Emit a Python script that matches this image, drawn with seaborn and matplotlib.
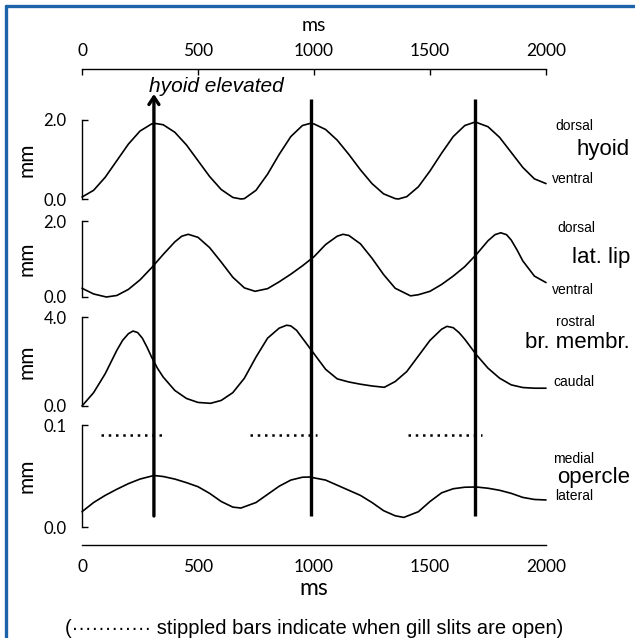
import matplotlib
matplotlib.use("Agg")
import matplotlib.pyplot as plt
import seaborn as sns
from matplotlib.lines import Line2D

# ---- data (time in ms, displacement in mm) ----
hyoid_ms = [0, 50, 100, 150, 200, 250, 300, 319, 350, 400, 450, 500, 550, 600, 650, 685,
            700, 750, 800, 850, 900, 950, 981, 1000, 1050, 1100, 1150, 1200, 1250, 1300,
            1350, 1364, 1400, 1450, 1500, 1550, 1600, 1650, 1695, 1750, 1800, 1850, 1900,
            1950, 2000]
hyoid_mm = [0.05, 0.22, 0.55, 0.97, 1.39, 1.72, 1.90, 1.91, 1.88, 1.69, 1.37, 0.97, 0.57,
            0.24, 0.04, 0.0, 0.01, 0.22, 0.63, 1.13, 1.58, 1.86, 1.91, 1.90, 1.76, 1.49,
            1.13, 0.74, 0.39, 0.13, 0.01, 0.0, 0.06, 0.31, 0.71, 1.16, 1.58, 1.86, 1.95,
            1.83, 1.56, 1.18, 0.80, 0.51, 0.39]

lip_ms = [0, 50, 105, 150, 200, 250, 300, 350, 400, 430, 458, 500, 550, 600, 650, 700, 746,
          800, 850, 900, 950, 1000, 1050, 1100, 1125, 1150, 1200, 1250, 1300, 1350, 1416,
          1450, 1500, 1550, 1600, 1650, 1700, 1750, 1780, 1805, 1830, 1850, 1875, 1900,
          1950, 2000]
lip_mm = [0.23, 0.08, 0.0, 0.04, 0.20, 0.45, 0.77, 1.12, 1.45, 1.60, 1.65, 1.57, 1.30, 0.92,
          0.52, 0.24, 0.15, 0.22, 0.40, 0.60, 0.82, 1.06, 1.38, 1.60, 1.65, 1.62, 1.40, 1.02,
          0.59, 0.23, 0.03, 0.06, 0.15, 0.33, 0.55, 0.80, 1.12, 1.48, 1.64, 1.69, 1.64,
          1.50, 1.24, 0.95, 0.55, 0.38]

membr_ms = [0, 50, 100, 150, 175, 200, 220, 240, 260, 280, 300, 325, 350, 400, 450, 500, 554,
            600, 650, 700, 750, 800, 850, 882, 900, 925, 950, 1000, 1050, 1100, 1150, 1200,
            1250, 1303, 1350, 1400, 1450, 1500, 1550, 1573, 1600, 1625, 1650, 1700, 1750,
            1800, 1850, 1900, 1950, 2000]
membr_mm = [0.0, 0.60, 1.45, 2.50, 2.95, 3.25, 3.37, 3.30, 3.05, 2.65, 2.20, 1.70, 1.30,
            0.70, 0.34, 0.16, 0.12, 0.25, 0.60, 1.25, 2.20, 3.05, 3.50, 3.63, 3.60, 3.40,
            3.05, 2.35, 1.65, 1.22, 1.08, 0.98, 0.90, 0.84, 1.10, 1.55, 2.25, 2.95, 3.45,
            3.58, 3.52, 3.30, 3.00, 2.30, 1.70, 1.25, 0.95, 0.83, 0.80, 0.80]

operc_ms = [0, 50, 100, 150, 200, 250, 310, 350, 400, 450, 500, 550, 600, 650, 685, 750, 800,
            850, 900, 950, 981, 1050, 1100, 1150, 1200, 1250, 1300, 1350, 1387, 1450, 1500,
            1550, 1600, 1650, 1700, 1750, 1800, 1850, 1900, 1950, 2000]
operc_mm = [0.015, 0.024, 0.031, 0.037, 0.0425, 0.047, 0.0505, 0.0495, 0.047, 0.0435,
            0.0395, 0.033, 0.025, 0.0195, 0.0186, 0.024, 0.032, 0.040, 0.046, 0.0488,
            0.049, 0.046, 0.041, 0.036, 0.031, 0.024, 0.016, 0.011, 0.0094, 0.015, 0.025,
            0.0335, 0.0375, 0.039, 0.0392, 0.038, 0.036, 0.033, 0.029, 0.027, 0.0265]

hyoid_up_ms = [310, 985, 1692]                          # vertical markers
gill_open = [(84, 354), (723, 1012), (1404, 1725)]      # stippled bars
x_ticks = [0, 500, 1000, 1500, 2000]

W, H = 635, 638
sns.set_theme(style="white")
plt.rcParams["font.family"] = ["Lato", "DejaVu Sans"]
for k in ["text.color", "axes.labelcolor", "xtick.color", "ytick.color", "axes.edgecolor"]:
    plt.rcParams[k] = "black"

fig = plt.figure(figsize=(W / 100, H / 100), dpi=100)
L, AW = 82 / W, 464 / W
ARIAL = "Liberation Sans"


def box(top, bottom):
    return [L, 1 - bottom / H, AW, (bottom - top) / H]


panels = [
    (hyoid_ms, hyoid_mm, 2.0, ["0.0", "2.0"], 120, 199,
     [("dorsal", 555, 126), ("ventral", 552, 179)], ("hyoid", 150)),
    (lip_ms, lip_mm, 2.0, ["0.0", "2.0"], 221, 297,
     [("dorsal", 557, 228), ("ventral", 552, 290)], ("lat. lip", 258)),
    (membr_ms, membr_mm, 4.0, ["0.0", "4.0"], 317, 406,
     [("rostral", 556, 322), ("caudal", 553, 382)], ("br. membr.", 343)),
    (operc_ms, operc_mm, 0.1, ["0.0", "0.1"], 425, 527,
     [("medial", 553, 459), ("lateral", 555, 496)], ("opercle", 477)),
]

for ms, vals, ymax, labs, top, bot, small, big in panels:
    ax = fig.add_axes(box(top, bot))
    ax.patch.set_alpha(0)
    sns.lineplot(x=ms, y=vals, ax=ax, color="black", lw=1.2, clip_on=False)
    ax.set_xlim(0, 2000)
    ax.set_ylim(0, ymax)
    for s in ["top", "right", "bottom"]:
        ax.spines[s].set_visible(False)
    ax.spines["left"].set_linewidth(1)
    ax.set_xticks([])
    ax.set_yticks([0, ymax])
    ax.set_yticklabels(labs)
    ax.tick_params(axis="y", direction="in", length=4, width=1, pad=11, labelsize=12,
                   left=True)
    ax.set_xlabel("")
    ax.set_ylabel("")
    fig.text(27 / W, 1 - (top + bot) / 2 / H, "mm", rotation=90, ha="center",
             va="center", fontsize=15)
    for word, px, py in small:
        fig.text(px / W, 1 - py / H, word, ha="left", va="center", fontsize=10,
                 family=ARIAL)
    fig.text(630 / W, 1 - big[1] / H, big[0], ha="right", va="center", fontsize=16,
             family=ARIAL)
    if ymax == 0.1:
        for a, b in gill_open:
            ax.plot([a, b], [0.09, 0.09], color="black", lw=1.8, ls=(0, (1, 1.9)))

# top time axis
axt = fig.add_axes([L, 1 - 75 / H, AW, 6 / H])
axt.patch.set_alpha(0)
axt.set_xlim(0, 2000)
for s in ["left", "right", "bottom"]:
    axt.spines[s].set_visible(False)
axt.spines["top"].set_linewidth(1)
axt.set_yticks([])
axt.xaxis.tick_top()
axt.set_xticks(x_ticks)
axt.tick_params(axis="x", direction="in", length=4, width=1, pad=7, labelsize=12.5)
axt.xaxis.set_label_position("top")
axt.set_xlabel("ms", fontsize=14, labelpad=9)

# bottom time axis
axb = fig.add_axes([L, 1 - 545 / H, AW, 6 / H])
axb.patch.set_alpha(0)
axb.set_xlim(0, 2000)
for s in ["left", "right", "top"]:
    axb.spines[s].set_visible(False)
axb.spines["bottom"].set_linewidth(1)
axb.set_yticks([])
axb.set_xticks(x_ticks)
axb.tick_params(axis="x", direction="in", length=4, width=1, pad=10, labelsize=12.5)
axb.set_xlabel("ms", fontsize=16.5, labelpad=2)

# overlay: markers of hyoid elevation (y in pixel rows)
ov = fig.add_axes([L, 0, AW, 1])
ov.set_xlim(0, 2000)
ov.set_ylim(H, 0)
ov.axis("off")
ov.patch.set_alpha(0)
ov.vlines(hyoid_up_ms[1:], 99, 516, color="black", lw=2.4)
ov.annotate("", xy=(hyoid_up_ms[0], 94), xytext=(hyoid_up_ms[0], 516),
            arrowprops=dict(arrowstyle="->,head_length=0.45,head_width=0.3", lw=2.4,
                            color="black", shrinkA=0, shrinkB=0))
fig.text(149 / W, 1 - 86 / H, "hyoid elevated", style="italic", fontsize=15,
         family=ARIAL, ha="left", va="center")

fig.text(314 / W, 1 - 629 / H,
         "(" + "\u00b7" * 12 + " stippled bars indicate when gill slits are open)",
         ha="center", va="center", fontsize=14.5, family=ARIAL)

# blue frame
blue = "#1a63a8"
fig.add_artist(Line2D([6 / W, 1], [1 - 6 / H, 1 - 6 / H], transform=fig.transFigure,
                      color=blue, lw=2.4))
fig.add_artist(Line2D([6 / W, 6 / W], [0, 1 - 6 / H], transform=fig.transFigure,
                      color=blue, lw=2.4))

fig.savefig("out.png", dpi=100)
